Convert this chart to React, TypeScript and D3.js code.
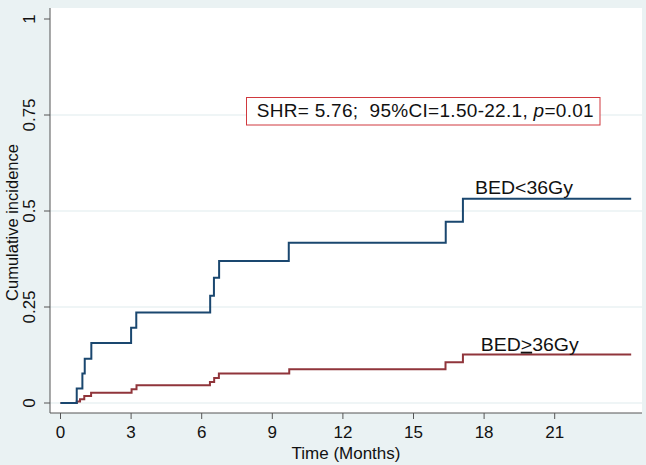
import React from "react";
import * as d3 from "d3";

const yTicks = [0, 0.25, 0.5, 0.75, 1];
const yTickLabels = ["0", "0.25", "0.5", "0.75", "1"];
const xTicks = [0, 3, 6, 9, 12, 15, 18, 21];
const xTickLabels = ["0", "3", "6", "9", "12", "15", "18", "21"];

const lowTimes = [0, 0.69, 0.93, 1.03, 1.31, 3.0, 3.22, 6.36, 6.52, 6.74, 9.7, 16.37, 17.1, 24.25];
const lowValues = [0, 0.038, 0.077, 0.115, 0.156, 0.196, 0.236, 0.279, 0.326, 0.37, 0.417, 0.472, 0.532, 0.532];

const highTimes = [0, 0.69, 0.83, 1.01, 1.3, 3.02, 3.23, 6.35, 6.53, 6.73, 9.72, 16.36, 17.1, 24.25];
const highValues = [0, 0.004, 0.01, 0.018, 0.027, 0.036, 0.046, 0.055, 0.065, 0.077, 0.088, 0.106, 0.126, 0.126];

const W = 646;
const H = 465;
const FONT = "'Liberation Sans', Arial, Helvetica, sans-serif";

export default function App() {
  const x = d3.scaleLinear().domain([0, 21]).range([60.5, 554.7]);
  const y = d3.scaleLinear().domain([0, 1]).range([403, 19]);
  const plot = { left: 50, right: 642, top: 8, bottom: 413 };

  const line = d3
    .line<[number, number]>()
    .x((d) => x(d[0]))
    .y((d) => y(d[1]))
    .curve(d3.curveStepAfter);

  const lowPts = lowTimes.map((t, i) => [t, lowValues[i]] as [number, number]);
  const highPts = highTimes.map((t, i) => [t, highValues[i]] as [number, number]);

  return (
    <svg
      width={W}
      height={H}
      style={{ position: "absolute", left: 0, top: 0, fontFamily: FONT }}
    >
      <rect x={0} y={0} width={W} height={H} fill="#eaf2f3" />
      <rect
        x={plot.left}
        y={plot.top}
        width={plot.right - plot.left}
        height={plot.bottom - plot.top}
        fill="#ffffff"
      />
      {/* grid lines */}
      {yTicks.slice(0, 4).map((t) => (
        <line
          key={"g" + t}
          x1={plot.left}
          x2={plot.right}
          y1={y(t)}
          y2={y(t)}
          stroke="#eaf2f3"
          strokeWidth={1.5}
        />
      ))}
      {/* axes */}
      <line x1={plot.left} x2={plot.left} y1={plot.top} y2={plot.bottom} stroke="#555" strokeWidth={1} />
      <line x1={plot.left} x2={plot.right} y1={plot.bottom} y2={plot.bottom} stroke="#555" strokeWidth={1} />
      {yTicks.map((t, i) => (
        <g key={"yt" + t}>
          <line x1={plot.left - 6} x2={plot.left} y1={y(t)} y2={y(t)} stroke="#555" />
          <text
            transform={`translate(35,${y(t)}) rotate(-90)`}
            textAnchor="middle"
            fontSize={17}
            fill="#111"
          >
            {yTickLabels[i]}
          </text>
        </g>
      ))}
      {xTicks.map((t, i) => (
        <g key={"xt" + t}>
          <line x1={x(t)} x2={x(t)} y1={plot.bottom} y2={plot.bottom + 6} stroke="#555" />
          <text x={x(t)} y={438} textAnchor="middle" fontSize={17} fill="#111">
            {xTickLabels[i]}
          </text>
        </g>
      ))}
      <text x={(plot.left + plot.right) / 2} y={459} textAnchor="middle" fontSize={17} fill="#111">
        Time (Months)
      </text>
      <text
        transform={`translate(18,${(plot.top + plot.bottom) / 2 + 12}) rotate(-90)`}
        textAnchor="middle"
        fontSize={16.5}
        fill="#111"
      >
        Cumulative incidence
      </text>

      {/* curves */}
      <path d={line(highPts) ?? ""} fill="none" stroke="#90353b" strokeWidth={2} />
      <path d={line(lowPts) ?? ""} fill="none" stroke="#1a476f" strokeWidth={2} />

      {/* annotation box */}
      <rect x={246.5} y={97.5} width={353.5} height={27.5} fill="#ffffff" stroke="#d0393e" strokeWidth={1} />
      <text x={256.7} y={117} fontSize={19} fill="#111" style={{ whiteSpace: "pre" }} textLength={337} lengthAdjust="spacing">
        {"SHR= 5.76;  95%CI=1.50-22.1, "}
        <tspan fontStyle="italic">p</tspan>
        {"=0.01"}
      </text>

      {/* curve labels */}
      <text x={475} y={193.5} fontSize={18.5} fill="#111" textLength={98} lengthAdjust="spacingAndGlyphs">
        {"BED<36Gy"}
      </text>
      <text x={480.7} y={350.7} fontSize={18.5} fill="#111" textLength={98} lengthAdjust="spacingAndGlyphs">
        {"BED"}
        <tspan textDecoration="underline">{">"}</tspan>
        {"36Gy"}
      </text>
    </svg>
  );
}
